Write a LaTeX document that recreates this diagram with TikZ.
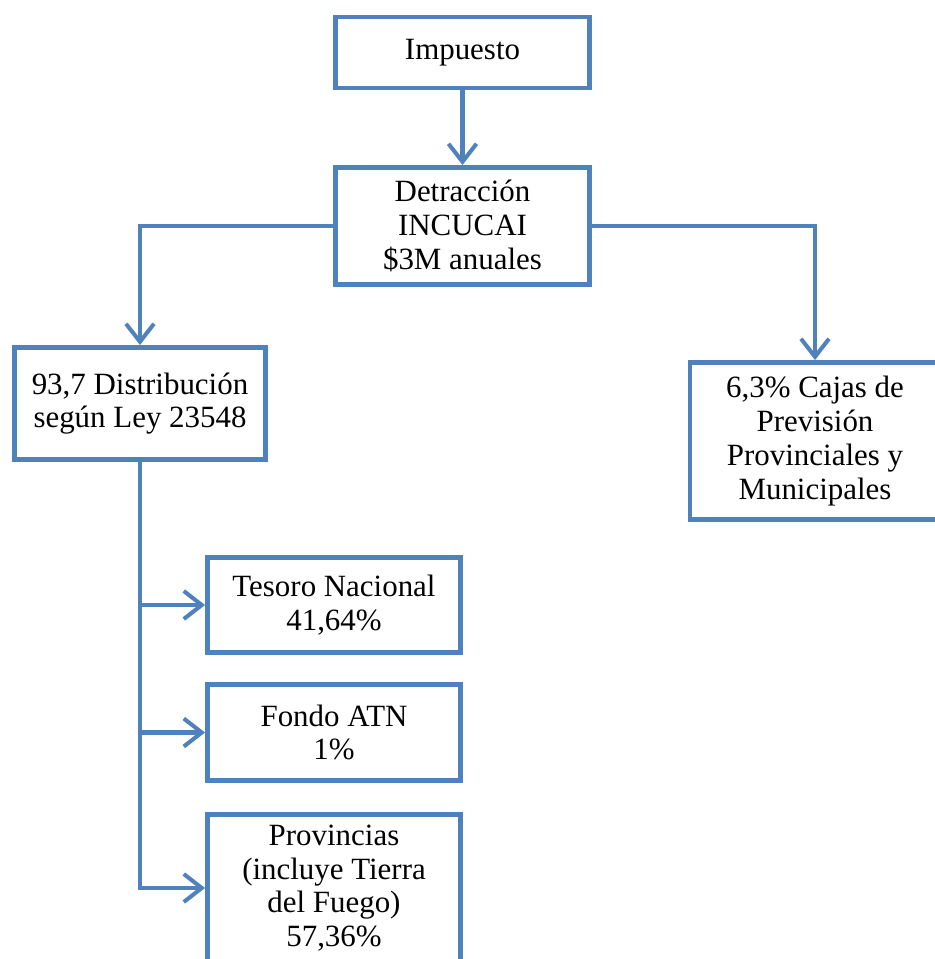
\documentclass[tikz,border=0pt]{standalone}
\usepackage{fontspec}
\setmainfont{Liberation Serif}
\usetikzlibrary{arrows.meta}
\definecolor{boxblue}{HTML}{4F81BD}
\tikzset{
  caja/.style={draw=boxblue, line width=2.8pt, fill=white, align=center, inner sep=0pt,
    font=\fontsize{17.6}{19.2}\selectfont},
  flecha/.style={draw=boxblue, line width=2.3pt, -{Straight Barb[length=0.36cm, width=0.56cm]}}
}
\begin{document}
\begin{tikzpicture}[x=0.02cm, y=-0.02cm]
			%%%%% START %%%%%
			\useasboundingbox (0,0) rectangle (935,959);
			
			\node[caja, minimum width=5.08cm, minimum height=1.42cm] (imp) at (462.5, 52.5) {Impuesto};
			\node[caja, minimum width=5.08cm, minimum height=2.34cm] (det) at (462.5, 226) {Detracción\\INCUCAI\\\$3M anuales};
			
			\node[caja, minimum width=5.02cm, minimum height=2.24cm] (dist) at (140, 403.5) {93,7 Distribución\\según Ley 23548};
			\node[caja, minimum width=5.0cm, minimum height=3.14cm] (cajas) at (815, 441) {6,3\% Cajas de\\Previsión\\Provinciales y\\Municipales};
			
			\node[caja, minimum width=5.06cm, minimum height=1.9cm] (tes) at (334, 605) {Tesoro Nacional\\41,64\%};
			\node[caja, minimum width=5.06cm, minimum height=1.92cm] (fon) at (334, 732.5) {Fondo ATN\\1\%};
			\node[caja, minimum width=5.06cm, minimum height=2.94cm] (prov) at (334, 888) {Provincias\\(incluye Tierra\\del Fuego)\\57,36\%};
			
			\draw[flecha] (imp) -- (det);
			\draw[flecha] (det.west) -| (dist.north);
			\draw[flecha] (det.east) -| (cajas.north);
			
			\draw[flecha] (dist.south) |- (tes.west);
			\draw[flecha] (dist.south) |- (fon.west);
			\draw[flecha] (dist.south) |- (prov.west);
			
			%%%%% END %%%%%
\end{tikzpicture}
\end{document}
